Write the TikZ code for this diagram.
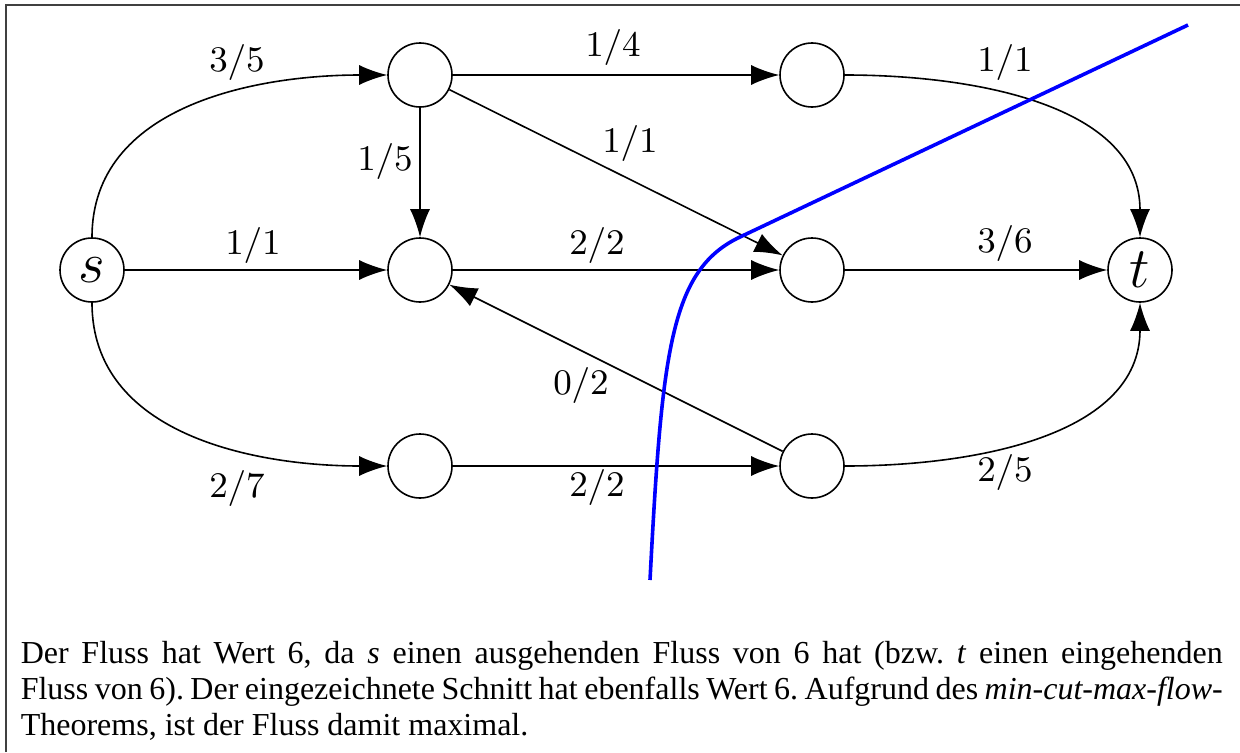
\documentclass[tikz,border=0pt]{standalone}
\usepackage{fontspec}
\newfontfamily\capfont{Liberation Serif}
\usetikzlibrary{arrows.meta}
\begin{document}
\begin{tikzpicture}[x=0.25pt,y=0.25pt,
  vtx/.style={circle,draw,line width=0.4pt,minimum size=16pt,inner sep=0pt,font=\fontsize{13.7}{16}\selectfont},
  lbl/.style={inner sep=0pt,font=\fontsize{9.5}{11}\selectfont},
  arc/.style={-{Latex[length=7pt,width=5pt]},line width=0.4pt},
  cut/.style={draw=blue,line width=0.9pt},
  frame/.style={draw=black!75,line width=0.45pt}]
\useasboundingbox (0,0) rectangle (1240,752);
% frame
\coordinate (fb) at (6,0);
\coordinate (fc) at (6,747);
\coordinate (fr) at (1240,747);
\draw[frame] (fb) -- (fc) -- (fr);
% vertices
\node[vtx] (s) at (92,482) {$s$};
\node[vtx] (a) at (420,677) {};
\node[vtx] (b) at (420,482) {};
\node[vtx] (c) at (420,286) {};
\node[vtx] (d) at (812,677) {};
\node[vtx] (e) at (812,482) {};
\node[vtx] (f) at (812,286) {};
\node[vtx] (t) at (1140,482) {$t$};
% edges
\draw[arc] (s) to[out=90,in=180] (a);
\draw[arc] (s) -- (b);
\draw[arc] (s) to[out=-90,in=180] (c);
\draw[arc] (a) -- (d);
\draw[arc] (a) -- (b);
\draw[arc] (a) -- (e);
\draw[arc] (b) -- (e);
\draw[arc] (d) to[out=0,in=90] (t);
\draw[arc] (e) -- (t);
\draw[arc] (c) -- (f);
\draw[arc] (f) -- (b);
\draw[arc] (f) to[out=0,in=-90] (t);
% labels
\node[lbl] (l1) at (237,690) {$3/5$};
\node[lbl] (l2) at (253,507) {$1/1$};
\node[lbl] (l3) at (237,264) {$2/7$};
\node[lbl] (l4) at (613,705) {$1/4$};
\node[lbl] (l5) at (385,591) {$1/5$};
\node[lbl] (l6) at (630,609) {$1/1$};
\node[lbl] (l7) at (597,507) {$2/2$};
\node[lbl] (l8) at (1005,509) {$3/6$};
\node[lbl] (l9) at (1005,690) {$1/1$};
\node[lbl] (l10) at (581,367) {$0/2$};
\node[lbl] (l11) at (597,265) {$2/2$};
\node[lbl] (l12) at (1005,280) {$2/5$};
% cut
\coordinate (k0) at (650,172);
\coordinate (k1) at (740,515);
\coordinate (k2) at (1188,727);
\draw[cut] (k0) .. controls (662,400) and (670,482) .. (k1) -- (k2);
% caption
\node[anchor=north west,inner sep=0pt,text width=300.5pt,align=justify,
  font=\capfont\fontsize{8}{9}\selectfont\frenchspacing] (cap) at (20,112)
  {Der Fluss hat Wert 6, da \textit{s} einen ausgehenden Fluss von 6 hat (bzw. \textit{t} einen eingehenden\linebreak
   Fluss von 6). Der eingezeichnete Schnitt hat ebenfalls Wert 6. Aufgrund des \textit{min-cut-max-flow}-\linebreak
   Theorems, ist der Fluss damit maximal.};
\end{tikzpicture}
\end{document}
